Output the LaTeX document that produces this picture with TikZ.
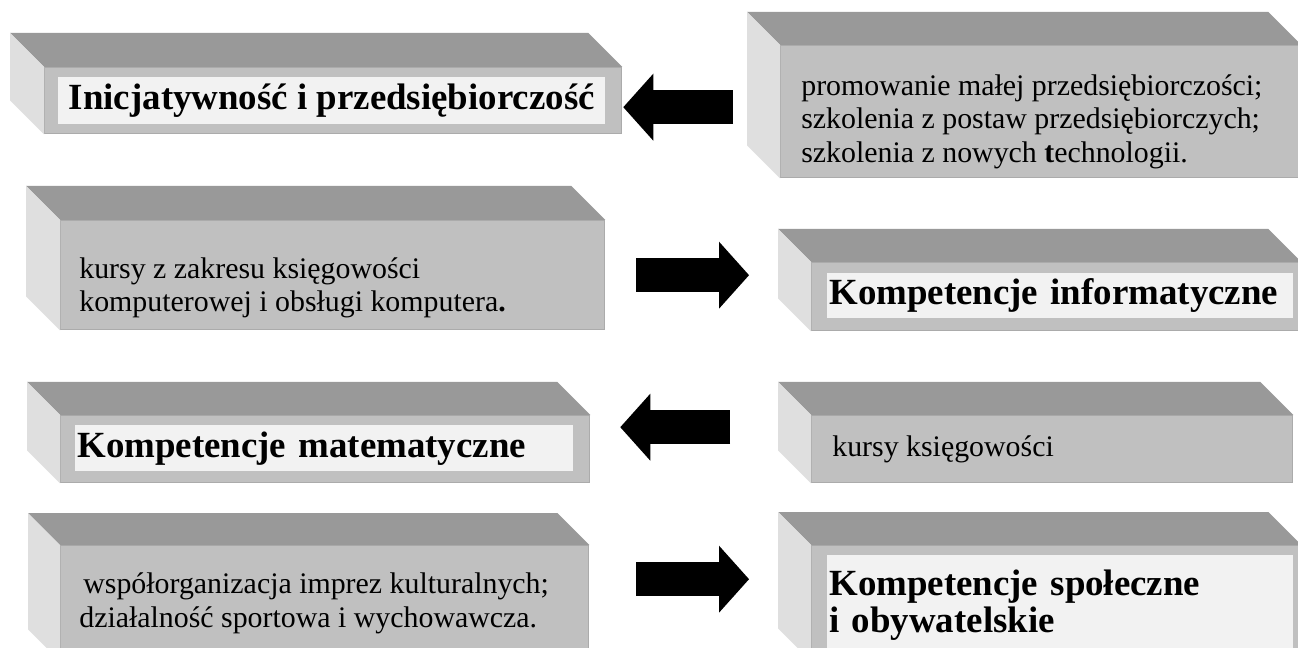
\documentclass[tikz,border=0pt]{standalone}
\usepackage{fontspec}
\setmainfont{Liberation Serif}
\usepackage{tikz}
\usetikzlibrary{arrows.meta,positioning}

\definecolor{topgray}{HTML}{999999}
\definecolor{frontgray}{HTML}{C0C0C0}
\definecolor{sidegray}{HTML}{DFDFDF}
\definecolor{edgegray}{HTML}{ABABAB}
\definecolor{taggray}{HTML}{F2F2F2}

\begin{document}
\begin{tikzpicture}[
    x=0.02cm, y=-0.02cm,
    every node/.style={font=\fontsize{17}{19}\selectfont},
    slab/.style={draw=edgegray, line width=0.8pt, fill=frontgray, anchor=north west, inner sep=0pt},
    tag/.style={fill=taggray, inner ysep=0pt, align=left, font=\fontsize{21}{21}\selectfont\bfseries},
    txt/.style={anchor=west, inner sep=0pt, align=left},
    bigarr/.style={line width=0.67cm, -{Triangle[length=0.6cm, width=1.34cm, line width=0pt]}},
]
    \useasboundingbox (0,0) rectangle (1298,648);
    \clip (0,0) rectangle (1298,648);
    \fill[white] (0,0) rectangle (1298,648);

    % front faces
    \node[slab, minimum width=11.54cm, minimum height=1.32cm] (inic) at (44,67) {};
    \node[slab, minimum width=10.4cm, minimum height=2.64cm] (promo) at (780,45) {};
    \node[slab, minimum width=10.88cm, minimum height=2.18cm] (kursy) at (60,220) {};
    \node[slab, minimum width=9.78cm, minimum height=1.36cm] (info) at (811,262) {};
    \node[slab, minimum width=10.58cm, minimum height=1.34cm] (mat) at (60,415) {};
    \node[slab, minimum width=9.62cm, minimum height=1.34cm] (ksieg) at (811,415) {};
    \node[slab, minimum width=10.56cm, minimum height=2.3cm] (wspol) at (60,545) {};
    \node[slab, minimum width=9.78cm, minimum height=2.3cm] (spol) at (811,545) {};

    % top and side faces
    \foreach \n/\d in {inic/34,promo/33,kursy/34,info/33,mat/33,ksieg/33,wspol/32,spol/33} {
        \fill[topgray] (\n.north west) -- ++(-\d,-\d) -- ([shift={(-\d,-\d)}]\n.north east) -- (\n.north east) -- cycle;
        \fill[sidegray] (\n.north west) -- ++(-\d,-\d) -- ([shift={(-\d,-\d)}]\n.south west) -- (\n.south west) -- cycle;
    }

    % titles
    \node[tag, below right=0.2cm and 0.28cm of inic.north west, minimum width=10.94cm, inner xsep=0pt, minimum height=0.94cm] (inictag) {Inicjatywność i przedsiębiorczość};
    \node[tag, below right=0.22cm and 0.32cm of info.north west, text width=9.24cm, inner xsep=0.04cm, minimum height=0.9cm] (infotag) {Kompetencje informatyczne};
    \node[tag, below right=0.2cm and 0.3cm of mat.north west, text width=9.88cm, inner xsep=0.04cm, minimum height=0.92cm] (mattag) {Kompetencje matematyczne};
    \node[tag, below right=0.2cm and 0.32cm of spol.north west, text width=9.24cm, inner xsep=0.04cm, minimum height=2cm] (spoltag) {Kompetencje społeczne\\i obywatelskie};

    % plain texts
    \node[txt, right=0.42cm of promo.west, yshift=-0.2cm] (promotxt) {promowanie małej przedsiębiorczości;\\szkolenia z postaw przedsiębiorczych;\\szkolenia z nowych \textbf{t}echnologii.};
    \node[txt, right=0.38cm of kursy.west, yshift=-0.25cm] (kursytxt) {kursy z zakresu księgowości\\komputerowej i obsługi komputera\textbf{.}};
    \node[txt, right=0.42cm of ksieg.west] (ksiegtxt) {kursy księgowości};
    \node[txt, right=0.38cm of wspol.west] (wspoltxt) {\hspace*{0.08cm}współorganizacja imprez kulturalnych;\\działalność sportowa i wychowawcza.};

    % arrows
    \coordinate (a1) at ([yshift=0.09cm]promo.west);
    \draw[bigarr, shorten <=0.94cm, shorten >=0.02cm] (a1) -- (a1 -| inic.east);
    \draw[bigarr, shorten <=0.62cm, shorten >=1.24cm] (kursy.east) -- (kursy.east -| info.west);
    \coordinate (a3) at ([yshift=0.44cm]ksieg.west);
    \draw[bigarr, shorten <=1.62cm, shorten >=0.6cm] (a3) -- (a3 -| mat.east);
    \coordinate (a4) at ([yshift=0.48cm]wspol.east);
    \draw[bigarr, shorten <=0.94cm, shorten >=1.24cm] (a4) -- (a4 -| spol.west);
\end{tikzpicture}
\end{document}
